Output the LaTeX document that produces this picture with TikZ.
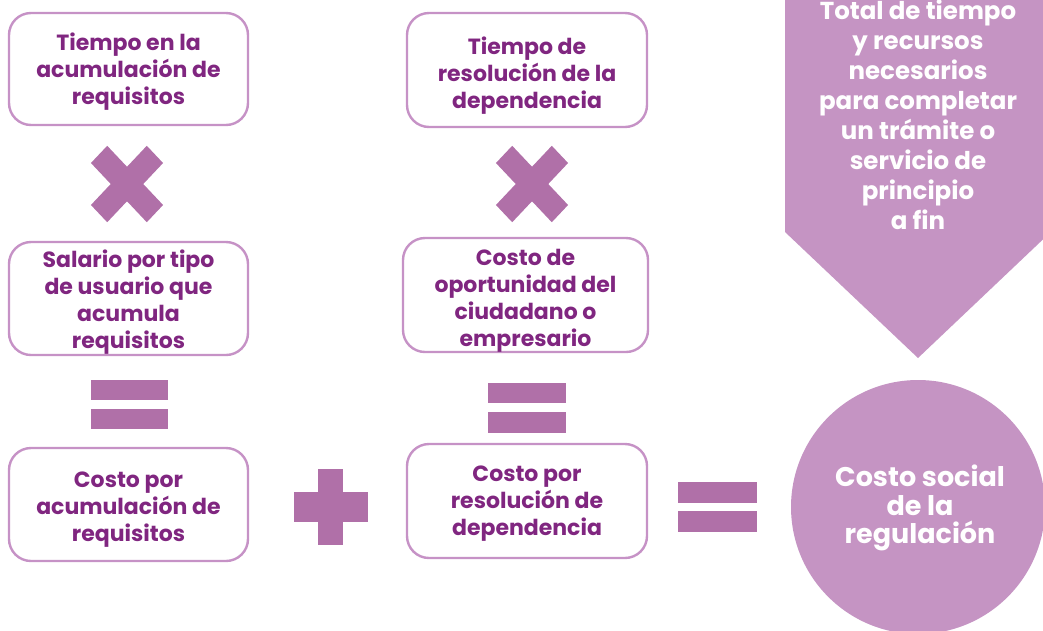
\documentclass[tikz,border=0pt]{standalone}
\usepackage{fontspec}
\setmainfont{Poppins}
\definecolor{txtpurple}{RGB}{128,38,128}
\definecolor{boxborder}{RGB}{198,146,198}
\definecolor{symcol}{RGB}{176,112,168}
\definecolor{shapecol}{RGB}{197,148,195}
\tikzset{
  textbox/.style={draw=boxborder, line width=2.4pt, rounded corners=22pt, fill=white},
  boxtext/.style={text=txtpurple, align=center, inner sep=0pt,
    font=\bfseries\fontsize{22}{27}\selectfont},
  bigtext/.style={text=white, align=center, inner sep=0pt}
}
\begin{document}
\begin{tikzpicture}[x=1pt,y=-1pt]
\useasboundingbox (0,0) rectangle (1043,630);
% right shapes
\fill[shapecol] (785,-5) -- (785,232) -- (918,358) -- (1055,228) -- (1055,-5) -- cycle;
\node[bigtext, font=\bfseries\fontsize{24.5}{30}\selectfont] (total) at (918,115)
  {Total de tiempo\\y recursos\\necesarios\\para completar\\un trámite o\\servicio de\\principio\\a fin};
\fill[shapecol] (918,507) circle (127);
\node[bigtext, font=\bfseries\fontsize{27}{28.5}\selectfont] (social) at (920,508)
  {Costo social\\de la\\regulación};
% boxes
\node[textbox, minimum width=239pt, minimum height=112pt] (b1) at (128.5,69) {};
\node[boxtext] (t1) at ([yshift=-3pt]b1.center) {Tiempo en la\\acumulación de\\requisitos};
\node[textbox, minimum width=239pt, minimum height=113pt] (b2) at (128.5,298.5) {};
\node[boxtext] (t2) at ([yshift=-4pt]b2.center) {Salario por tipo\\de usuario que\\acumula\\requisitos};
\node[textbox, minimum width=239pt, minimum height=113pt] (b3) at (128.5,504.5) {};
\node[boxtext] (t3) at ([yshift=-5pt]b3.center) {Costo por\\acumulación de\\requisitos};
\node[textbox, minimum width=240pt, minimum height=114pt] (b4) at (527,70) {};
\node[boxtext] (t4) at ([yshift=-6pt]b4.center) {Tiempo de\\resolución de la\\dependencia};
\node[textbox, minimum width=245pt, minimum height=114pt] (b5) at (525.5,295) {};
\node[boxtext] (t5) at ([yshift=-6pt]b5.center) {Costo de\\oportunidad del\\ciudadano o\\empresario};
\node[textbox, minimum width=240pt, minimum height=114pt] (b6) at (527,501) {};
\node[boxtext] (t6) at ([yshift=-3pt]b6.center) {Costo por\\resolución de\\dependencia};
% multiplication signs
\foreach \cx/\cy in {127/184, 532/184}{
  \begin{scope}[shift={(\cx,\cy)}, yscale=1.06]
    \fill[symcol, rotate=45] (-39.5,-11.5) rectangle (39.5,11.5);
    \fill[symcol, rotate=-45] (-39.5,-11.5) rectangle (39.5,11.5);
  \end{scope}
}
% equals signs
\fill[symcol] (91,380) rectangle (168,400);
\fill[symcol] (91,409) rectangle (168,429);
\fill[symcol] (488,383) rectangle (566,403);
\fill[symcol] (488,412) rectangle (566,433);
\fill[symcol] (678,482) rectangle (757,503);
\fill[symcol] (678,511) rectangle (757,532);
% plus sign
\fill[symcol] (318,469) rectangle (343,545);
\fill[symcol] (294,492) rectangle (368,522);
\end{tikzpicture}
\end{document}
